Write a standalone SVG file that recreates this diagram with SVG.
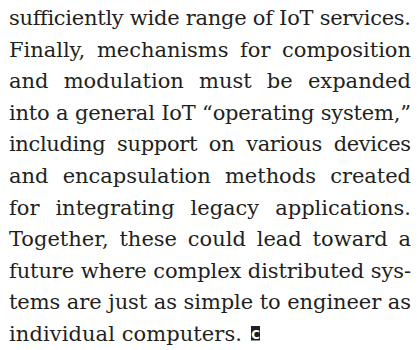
<svg xmlns="http://www.w3.org/2000/svg" width="418" height="350" viewBox="0 0 418 350">
<style>
text{font-family:"DejaVu Serif","Liberation Serif",serif;font-size:21px;fill:#231f20}
.mk{fill:#231f20}
.mkt{font-family:"DejaVu Sans Condensed","Liberation Sans",sans-serif;font-size:13px;font-weight:bold;fill:#fff}
</style>
<rect width="418" height="350" fill="#fff"/>
<g id="paragraph">
<text x="9" y="25" textLength="402" lengthAdjust="spacing">sufficiently wide range of IoT services.</text>
<text x="9" y="56.6" word-spacing="5" textLength="402" lengthAdjust="spacing">Finally, mechanisms for composition</text>
<text x="9" y="88.2" word-spacing="8.5" textLength="402" lengthAdjust="spacing">and modulation must be expanded</text>
<text x="9" y="119.8" textLength="402" lengthAdjust="spacing">into a general IoT “operating system,”</text>
<text x="9" y="151.4" word-spacing="5.5" textLength="402" lengthAdjust="spacing">including support on various devices</text>
<text x="9" y="183" word-spacing="7.7" textLength="402" lengthAdjust="spacing">and encapsulation methods created</text>
<text x="9" y="214.6" word-spacing="9.3" textLength="402" lengthAdjust="spacing">for integrating legacy applications.</text>
<text x="9" y="246.2" word-spacing="4.2" textLength="402" lengthAdjust="spacing">Together, these could lead toward a</text>
<text x="9" y="277.8" textLength="402" lengthAdjust="spacing">future where complex distributed sys-</text>
<text x="9" y="309.4" textLength="402" lengthAdjust="spacing">tems are just as simple to engineer as</text>
<text x="9" y="341" textLength="233" lengthAdjust="spacing">individual computers.</text>
</g>
<g id="end-mark">
<rect class="mk" x="251" y="326" width="9" height="14.5"/>
<text class="mkt" x="255.5" y="338.5" text-anchor="middle">C</text>
</g>
</svg>
